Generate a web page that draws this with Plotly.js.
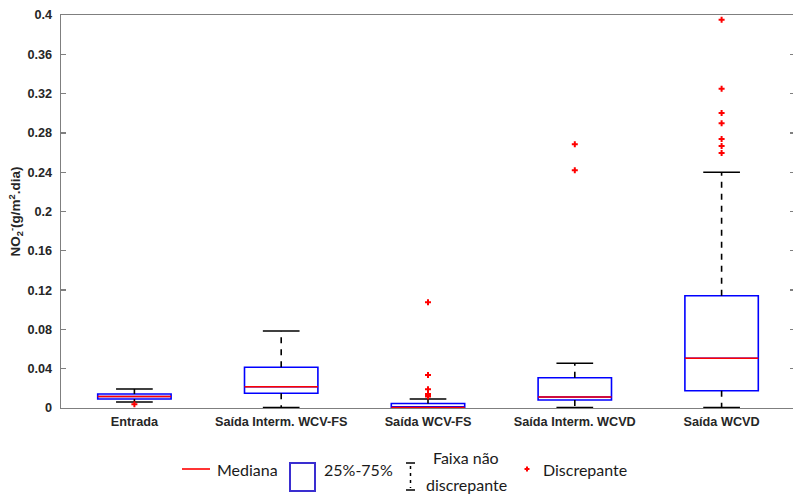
<!DOCTYPE html>
<html>
<head>
<meta charset="utf-8">
<script src="https://cdn.plot.ly/plotly-3.0.1.min.js"></script>
<style>
html,body{margin:0;padding:0;overflow:hidden;background:#fff;}
#chart{width:797px;height:496px;}
</style>
</head>
<body>
<div id="chart"></div>
<script>
// ---- data ----
var categories = ['Entrada', 'Saída Interm. WCV-FS', 'Saída WCV-FS', 'Saída Interm. WCVD', 'Saída WCVD'];
var q1Values = [0.0092, 0.0150, 0.0002, 0.0081, 0.0176];
var medianValues = [0.0117, 0.0217, 0.0004, 0.0112, 0.0506];
var q3Values = [0.0142, 0.0414, 0.0046, 0.0308, 0.1143];
var lowerWhisker = [0.0061, 0.0005, 0.0002, 0.0005, 0.0005];
var upperWhisker = [0.0193, 0.0784, 0.0092, 0.0455, 0.2399];
var outliers = [
  [0.0038],
  [],
  [0.1076, 0.0336, 0.0190, 0.0142, 0.0128, 0.0118],
  [0.2684, 0.2419],
  [0.3952, 0.3250, 0.3003, 0.2898, 0.2738, 0.2667, 0.2595]
];
var yTickVals = [0, 0.04, 0.08, 0.12, 0.16, 0.2, 0.24, 0.28, 0.32, 0.36, 0.4];
var yTickText = ['0', '0.04', '0.08', '0.12', '0.16', '0.2', '0.24', '0.28', '0.32', '0.36', '0.4'];
var legendLabels = ['Mediana', '25%-75%', 'Faixa não', 'discrepante', 'Discrepante'];

// ---- build traces ----
var pos = categories.map(function (c, i) { return i + 1; });
var BOXW = 0.5, CAPW = 0.25;
var traces = [];

traces.push({
  type: 'box', x: pos, q1: q1Values, median: medianValues, q3: q3Values,
  lowerfence: q1Values, upperfence: q3Values,
  width: BOXW, whiskerwidth: 0,
  line: {color: '#0000ff', width: 1.6}, fillcolor: 'rgba(0,0,0,0)',
  boxpoints: false, hoverinfo: 'skip', showlegend: false
});

var wx = [], wy = [], cx = [], cy = [], mx = [], my = [], ox = [], oy = [];
pos.forEach(function (p, i) {
  wx.push(p, p, null, p, p, null);
  wy.push(q3Values[i], upperWhisker[i], null, q1Values[i], lowerWhisker[i], null);
  cx.push(p - CAPW / 2, p + CAPW / 2, null, p - CAPW / 2, p + CAPW / 2, null);
  cy.push(upperWhisker[i], upperWhisker[i], null, lowerWhisker[i], lowerWhisker[i], null);
  mx.push(p - BOXW / 2, p + BOXW / 2, null);
  my.push(medianValues[i], medianValues[i], null);
  outliers[i].forEach(function (v) { ox.push(p); oy.push(v); });
});
traces.push({type: 'scatter', mode: 'lines', x: wx, y: wy, line: {color: '#000', width: 1.6, dash: '6px,6px'}, hoverinfo: 'skip', showlegend: false});
traces.push({type: 'scatter', mode: 'lines', x: cx, y: cy, line: {color: '#000', width: 1.6}, hoverinfo: 'skip', showlegend: false});
traces.push({type: 'scatter', mode: 'lines', x: mx, y: my, line: {color: '#ff0000', width: 1.6}, hoverinfo: 'skip', showlegend: false});
traces.push({type: 'scatter', mode: 'markers', x: ox, y: oy, marker: {symbol: 'cross', size: 5, color: '#ff0000', line: {width: 0}}, hoverinfo: 'skip', showlegend: false});

// ---- legend drawn with shapes/annotations (pixel -> paper) ----
var L = 61, R = 795, T = 15, B = 408;
function px(x) { return (x - L) / (R - L); }
function py(y) { return (B - y) / (B - T); }
var shapes = [
  {type: 'line', xref: 'paper', yref: 'paper', x0: px(182), x1: px(210), y0: py(469), y1: py(469), line: {color: '#ff0000', width: 1.6}},
  {type: 'rect', xref: 'paper', yref: 'paper', x0: px(290), x1: px(315), y0: py(463), y1: py(491), line: {color: '#3a2ed0', width: 2}},
  {type: 'line', xref: 'paper', yref: 'paper', x0: px(406), x1: px(415), y0: py(463), y1: py(463), line: {color: '#000', width: 1.5}},
  {type: 'line', xref: 'paper', yref: 'paper', x0: px(410.5), x1: px(410.5), y0: py(466), y1: py(488), line: {color: '#000', width: 1.5, dash: '3px,4px'}},
  {type: 'line', xref: 'paper', yref: 'paper', x0: px(406), x1: px(415), y0: py(490), y1: py(490), line: {color: '#000', width: 1.5}},
  {type: 'line', xref: 'paper', yref: 'paper', x0: px(524.5), x1: px(529.5), y0: py(469), y1: py(469), line: {color: '#ff0000', width: 2}},
  {type: 'line', xref: 'paper', yref: 'paper', x0: px(527), x1: px(527), y0: py(466.5), y1: py(471.5), line: {color: '#ff0000', width: 2}}
];
var lf = {family: 'Lato, "Liberation Sans", sans-serif', size: 16, color: '#1a1a1a'};
function ann(x, y, anchor, text) {
  return {xref: 'paper', yref: 'paper', x: px(x), y: py(y), xanchor: anchor, yanchor: 'middle', text: text, showarrow: false, font: lf};
}
var annotations = [
  ann(215, 469, 'left', legendLabels[0]),
  ann(322, 469, 'left', legendLabels[1]),
  ann(466, 458, 'center', legendLabels[2]),
  ann(467, 485, 'center', legendLabels[3]),
  ann(541, 469, 'left', legendLabels[4])
];

var axFont = {family: '"Liberation Sans", Arial, sans-serif', size: 12.7, color: '#262626', weight: 'bold'};
var layout = {
  width: 797, height: 496,
  margin: {l: L, r: 797 - R, t: T, b: 496 - B, pad: 0},
  paper_bgcolor: '#fff', plot_bgcolor: '#fff',
  showlegend: false,
  xaxis: {
    range: [0.5, 5.5], tickvals: pos, ticktext: categories, ticks: '',
    showline: true, mirror: true, linecolor: '#7f7f7f', linewidth: 1.3,
    showgrid: false, zeroline: false, tickfont: axFont, ticklabelstandoff: 1
  },
  yaxis: {
    range: [0, 0.4], tickvals: yTickVals, ticktext: yTickText,
    ticks: 'inside', ticklen: 5, tickcolor: '#7f7f7f', tickwidth: 1.3,
    showline: true, mirror: 'ticks', linecolor: '#7f7f7f', linewidth: 1.3,
    showgrid: false, zeroline: false, tickfont: axFont, ticklabelstandoff: 5,
    title: {text: 'NO<sub>2</sub><sup>-</sup>(g/m<sup>2</sup>.dia)', font: {family: '"Liberation Sans", Arial, sans-serif', size: 13.5, color: '#262626', weight: 'bold'}, standoff: 3}
  },
  shapes: shapes, annotations: annotations
};
Plotly.newPlot('chart', traces, layout, {displayModeBar: false, staticPlot: true});
</script>
</body>
</html>
